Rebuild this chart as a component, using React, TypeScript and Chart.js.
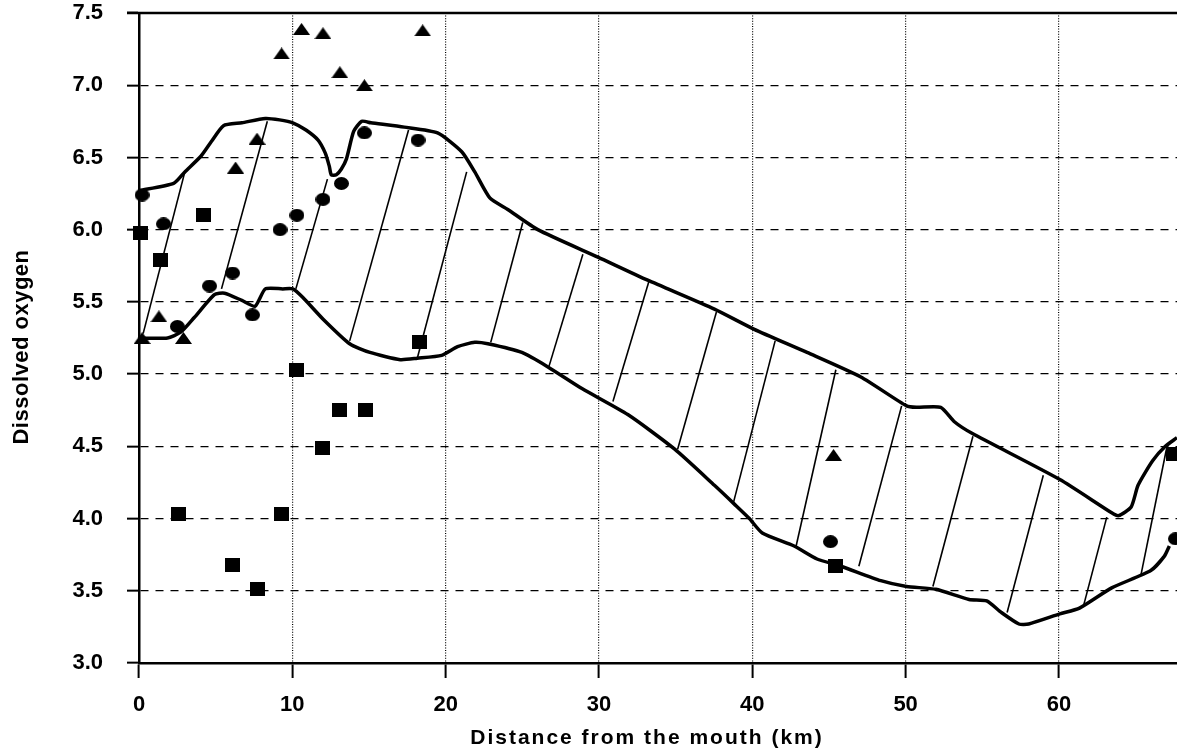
import React, { useEffect, useRef } from "react";
import { Chart, registerables } from "chart.js";

Chart.register(...registerables);

// Axis ranges
const X_MIN = 0;
const X_MAX = 67.7;
const Y_MIN = 3.0;
const Y_MAX = 7.5;
const X_STEP = 10;
const Y_STEP = 0.5;

// Observations (km, mg/L)
const triangleX = [0.2, 1.3, 2.9, 6.3, 7.7, 9.3, 10.6, 12.0, 13.1, 14.7, 18.5, 45.3];
const triangleY = [5.25, 5.4, 5.25, 6.43, 6.63, 7.22, 7.39, 7.36, 7.09, 7.0, 7.38, 4.44];

const circleX = [0.2, 1.6, 2.5, 4.6, 6.1, 7.4, 9.2, 10.3, 12.0, 13.2, 14.7, 18.2, 45.1, 67.6];
const circleY = [6.24, 6.04, 5.33, 5.61, 5.7, 5.41, 6.0, 6.1, 6.21, 6.32, 6.67, 6.62, 3.84, 3.86];

const squareX = [0.1, 1.4, 4.2, 2.6, 6.1, 7.7, 9.3, 10.3, 12.0, 13.1, 14.8, 18.3, 45.4, 67.5];
const squareY = [5.98, 5.79, 6.1, 4.03, 3.68, 3.51, 4.03, 5.03, 4.49, 4.75, 4.75, 5.22, 3.67, 4.45];

// Envelope of the model runs: upper and lower limits
const upperX = [0, 2.26, 2.99, 4.05, 4.72, 5.51, 6.71, 8.24, 9.17, 10.03, 10.89, 11.68, 12.15, 12.41, 12.54, 12.87, 13.2, 13.53, 14.0, 14.52, 15.12, 17.3, 19.47, 21.05, 21.9, 22.88, 24.05, 26.01, 29.93, 33.18, 37.53, 40.13, 43.57, 47.08, 50.06, 50.7, 52.29, 53.18, 54.33, 60.06, 63.44, 63.89, 64.71, 65.16, 66.11, 66.94, 67.7];
const upperY = [6.27, 6.32, 6.4, 6.51, 6.61, 6.72, 6.74, 6.77, 6.76, 6.74, 6.69, 6.62, 6.53, 6.44, 6.38, 6.38, 6.42, 6.49, 6.68, 6.75, 6.74, 6.71, 6.67, 6.54, 6.4, 6.22, 6.14, 6.0, 5.81, 5.65, 5.45, 5.31, 5.15, 4.98, 4.78, 4.77, 4.77, 4.67, 4.59, 4.27, 4.04, 4.02, 4.08, 4.23, 4.4, 4.5, 4.56];

const lowerX = [0, 1.86, 2.72, 3.59, 4.92, 5.58, 6.71, 7.57, 8.24, 9.37, 10.03, 10.69, 12.01, 13.74, 15.06, 17.04, 18.15, 19.74, 20.78, 21.9, 22.75, 24.97, 26.67, 28.89, 31.88, 34.94, 37.53, 38.83, 39.81, 40.65, 42.73, 44.22, 45.78, 48.38, 50.06, 51.97, 54.14, 55.29, 56.24, 57.39, 58.03, 60.06, 61.34, 63.44, 65.99, 66.88, 67.2];
const lowerY = [5.25, 5.25, 5.29, 5.39, 5.55, 5.56, 5.51, 5.47, 5.59, 5.59, 5.59, 5.53, 5.38, 5.21, 5.15, 5.1, 5.11, 5.13, 5.19, 5.22, 5.21, 5.15, 5.05, 4.9, 4.72, 4.48, 4.23, 4.1, 4.0, 3.9, 3.81, 3.72, 3.67, 3.57, 3.53, 3.51, 3.44, 3.43, 3.35, 3.27, 3.27, 3.34, 3.38, 3.52, 3.64, 3.74, 3.81];

// Hatching strokes across the envelope (lower end -> upper end)
const hatchFromX = [0.27, 5.38, 10.23, 13.74, 18.15, 22.94, 26.73, 30.91, 35.13, 38.77, 42.86, 46.95, 51.78, 56.62, 61.59, 65.35];
const hatchFromY = [5.28, 5.59, 5.59, 5.23, 5.11, 5.22, 5.05, 4.81, 4.48, 4.11, 3.81, 3.67, 3.53, 3.35, 3.39, 3.61];
const hatchToX = [2.99, 8.37, 12.29, 17.58, 21.37, 25.03, 28.95, 33.25, 37.66, 41.49, 45.45, 49.74, 54.39, 58.98, 63.12, 67.01];
const hatchToY = [6.4, 6.75, 6.35, 6.69, 6.4, 6.05, 5.83, 5.64, 5.43, 5.23, 5.03, 4.78, 4.57, 4.3, 4.01, 4.48];

const X_TITLE = "Distance from the mouth (km)";
const Y_TITLE = "Dissolved oxygen";

const FONT_FAMILY = '"Liberation Sans", Arial, Helvetica, sans-serif';

type Shape = "circle" | "square" | "triangle";

function makeMarker(shape: Shape): HTMLCanvasElement {
  const size = { circle: [15, 13], square: [15, 14], triangle: [17, 12] }[shape];
  const c = document.createElement("canvas");
  c.width = size[0];
  c.height = size[1];
  const g = c.getContext("2d")!;
  const w = size[0];
  const h = size[1];
  g.fillStyle = "#000";
  g.beginPath();
  if (shape === "circle") {
    g.ellipse(w / 2, h / 2, w / 2, h / 2, 0, 0, Math.PI * 2);
  } else if (shape === "square") {
    g.rect(0, 0, w, h);
  } else {
    g.moveTo(w / 2, 0);
    g.lineTo(w, h);
    g.lineTo(0, h);
    g.closePath();
  }
  g.fill();
  return c;
}

const pairs = (xs: number[], ys: number[]) => xs.map((x, i) => ({ x, y: ys[i] }));

// Top frame line and the two axis titles
const framePlugin = {
  id: "frameAndTitles",
  afterDraw(chart: any) {
    const { ctx, chartArea } = chart;
    ctx.save();
    ctx.strokeStyle = "#000";
    ctx.lineWidth = 2.5;
    ctx.beginPath();
    ctx.moveTo(chartArea.left - 12, chartArea.top);
    ctx.lineTo(chartArea.right, chartArea.top);
    ctx.stroke();

    ctx.fillStyle = "#000";
    ctx.textAlign = "center";
    ctx.textBaseline = "middle";

    ctx.font = `bold 21px ${FONT_FAMILY}`;
    (ctx as any).letterSpacing = "2px";
    ctx.fillText(X_TITLE, chartArea.left + 508, chartArea.bottom + 75);

    ctx.font = `bold 22px ${FONT_FAMILY}`;
    (ctx as any).letterSpacing = "0.5px";
    ctx.translate(22, (chartArea.top + chartArea.bottom) / 2 + 9);
    ctx.rotate(-Math.PI / 2);
    ctx.fillText(Y_TITLE, 0, 0);
    ctx.restore();
  },
};

export default function App() {
  const canvasRef = useRef<HTMLCanvasElement | null>(null);

  useEffect(() => {
    const canvas = canvasRef.current;
    if (!canvas) return;

    const markerBase = {
      type: "scatter" as const,
      showLine: false,
      pointRadius: 8,
      pointHoverRadius: 8,
      clip: false as any,
    };

    const hatchSets = hatchFromX.map((x0, i) => ({
      type: "line" as const,
      data: [
        { x: x0, y: hatchFromY[i] },
        { x: hatchToX[i], y: hatchToY[i] },
      ],
      borderColor: "#000",
      borderWidth: 1.6,
      pointRadius: 0,
      tension: 0,
    }));

    const chart = new Chart(canvas, {
      type: "scatter",
      data: {
        datasets: [
          { ...markerBase, label: "Squares", data: pairs(squareX, squareY), pointStyle: makeMarker("square") as any },
          { ...markerBase, label: "Circles", data: pairs(circleX, circleY), pointStyle: makeMarker("circle") as any },
          { ...markerBase, label: "Triangles", data: pairs(triangleX, triangleY), pointStyle: makeMarker("triangle") as any },
          {
            type: "line",
            label: "Upper limit",
            data: pairs(upperX, upperY),
            borderColor: "#000",
            borderWidth: 3.5,
            pointRadius: 0,
            tension: 0.2,
          },
          {
            type: "line",
            label: "Lower limit",
            data: pairs(lowerX, lowerY),
            borderColor: "#000",
            borderWidth: 3.5,
            pointRadius: 0,
            tension: 0.2,
          },
          ...hatchSets,
        ] as any,
      },
      options: {
        responsive: false,
        animation: false,
        events: [],
        layout: { autoPadding: false, padding: { top: 13, right: 0, left: 0, bottom: 0 } },
        plugins: {
          legend: { display: false },
          tooltip: { enabled: false },
        },
        scales: {
          x: {
            type: "linear",
            min: X_MIN,
            max: X_MAX,
            afterFit: (scale: any) => {
              scale.height = 89;
              scale.paddingLeft = 0;
              scale.paddingRight = 0;
            },
            ticks: {
              stepSize: X_STEP,
              includeBounds: false,
              color: "#000",
              padding: 14,
              font: { family: FONT_FAMILY, size: 22, weight: "bold" },
              callback: (v: any) => String(v),
            },
            grid: {
              color: (c: any) => (c.tick && c.tick.value === X_MIN ? "rgba(0,0,0,0)" : "#000"),
              lineWidth: 1.2,
              tickLength: 15,
              tickWidth: 2,
              tickColor: "#000",
            },
            border: { display: true, color: "#000", width: 2.5, dash: [1, 1.6] },
          },
          y: {
            type: "linear",
            min: Y_MIN,
            max: Y_MAX,
            afterFit: (scale: any) => {
              scale.width = 139;
              scale.paddingTop = 0;
              scale.paddingBottom = 0;
            },
            ticks: {
              stepSize: Y_STEP,
              color: "#000",
              padding: 24,
              font: { family: FONT_FAMILY, size: 22, weight: "bold" },
              callback: (v: any) => Number(v).toFixed(1),
            },
            grid: {
              color: (c: any) =>
                c.tick && (c.tick.value === Y_MIN || c.tick.value === Y_MAX) ? "rgba(0,0,0,0)" : "#000",
              lineWidth: 1.3,
              tickLength: 12,
              tickWidth: 2,
              tickColor: "#000",
            },
            border: { display: true, color: "#000", width: 2.5, dash: [8, 7] },
          },
        },
      },
      plugins: [framePlugin],
    });

    return () => chart.destroy();
  }, []);

  return (
    <div style={{ position: "fixed", left: 0, top: 0, width: 1177, height: 752, background: "#fff" }}>
      <canvas ref={canvasRef} width={1177} height={752} style={{ display: "block" }} />
    </div>
  );
}
